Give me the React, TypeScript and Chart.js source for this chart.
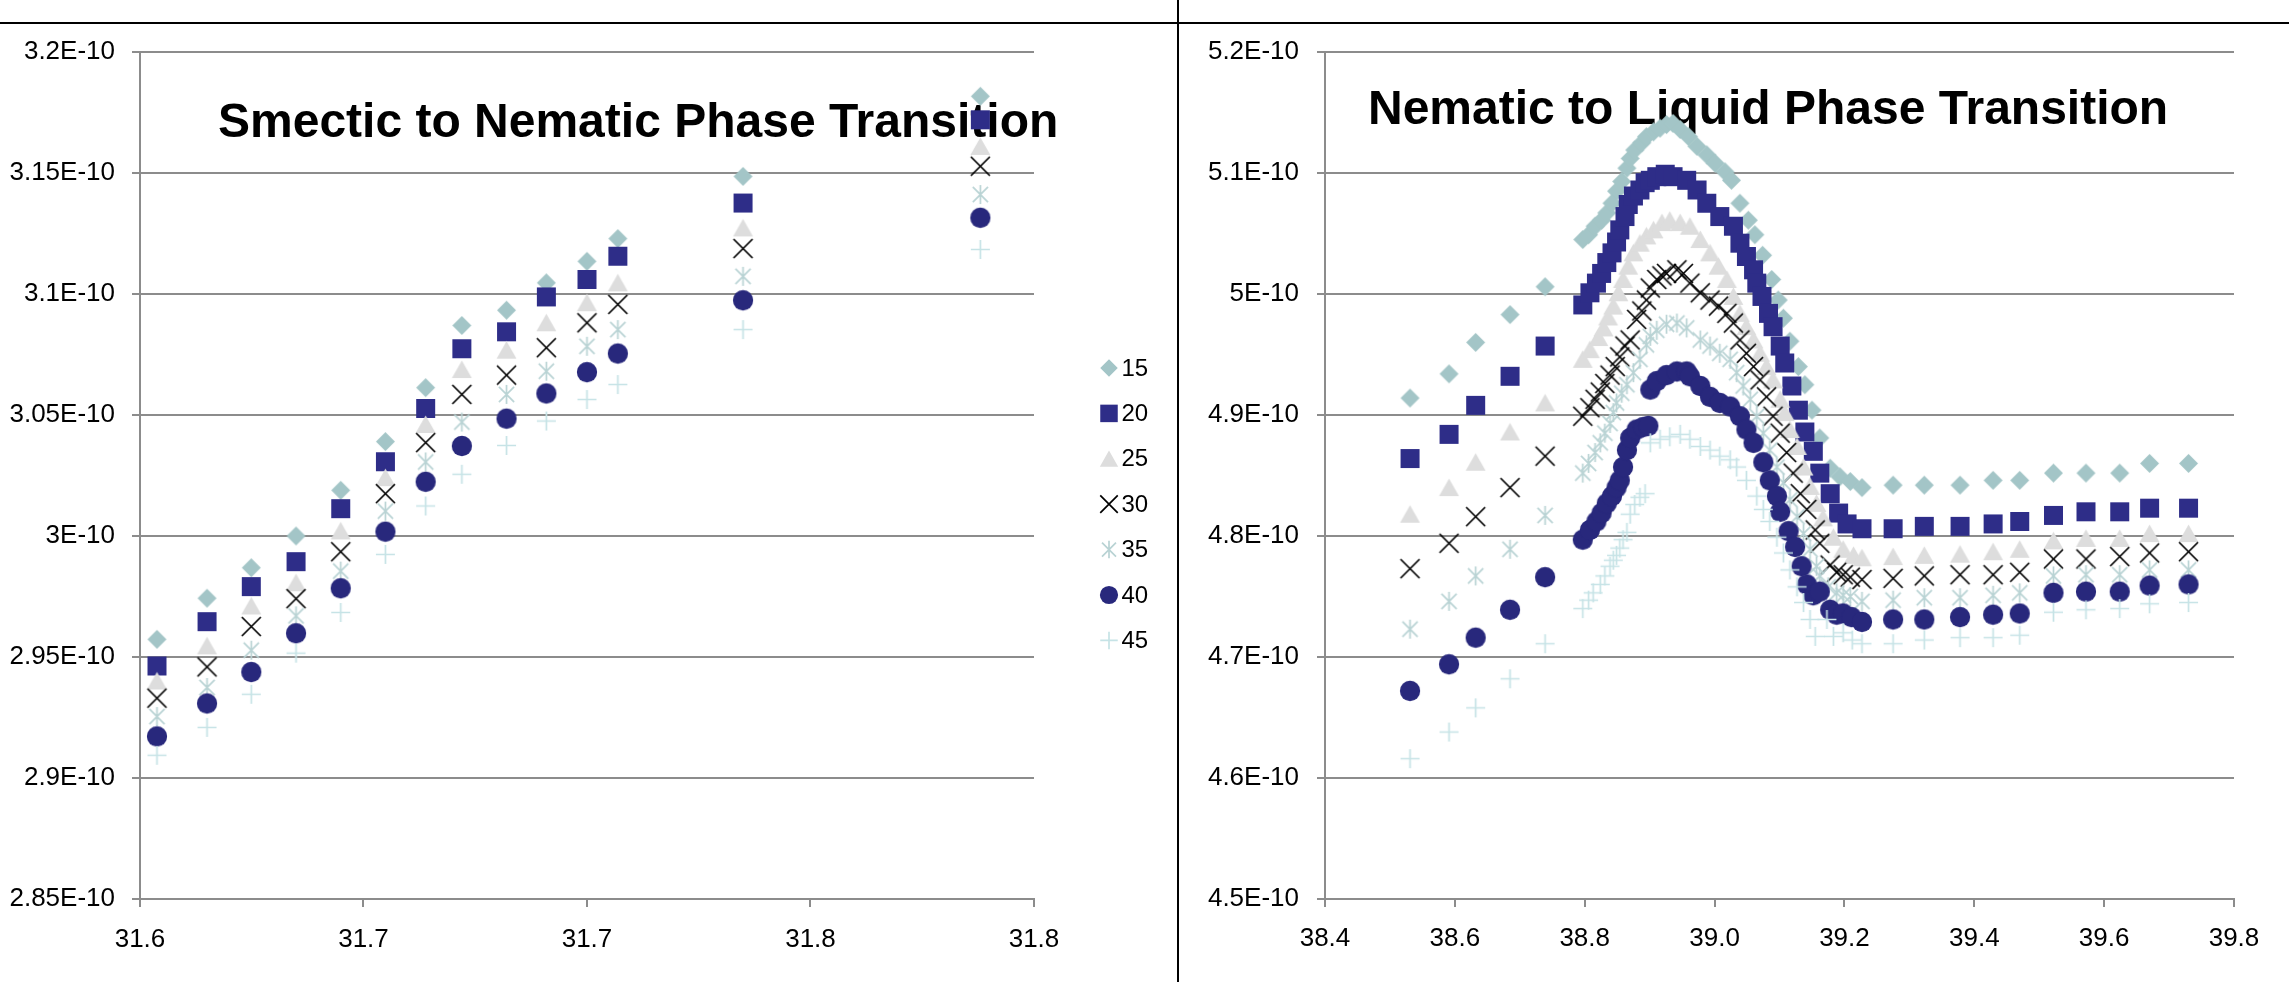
import React, { useEffect, useRef } from 'react';
import { Chart, registerables } from 'chart.js';

Chart.register(...registerables);

// ---------- shared series definitions ----------
const SERIES_NAMES = ['15', '20', '25', '30', '35', '40', '45'];
const MARKER_STYLES = ['diamond', 'square', 'triangle', 'x', 'star', 'circle', 'plus'];
const MARKER_COLORS = ['#A3C5C7', '#2E2D88', '#DDDDDD', '#000000', '#B9D3D4', '#28287C', '#C6E3E6'];
const VALUE_UNIT_EXP = -10; // values below are in units of 1E-10

// ---------- Smectic to Nematic (left) ----------
const SN_TITLE = 'Smectic to Nematic Phase Transition';
const SN_X_TICK_LABELS = ['31.6', '31.7', '31.7', '31.8', '31.8'];
const SN_T = [31.6038, 31.615, 31.6249, 31.6349, 31.6449, 31.6549, 31.6639, 31.672, 31.682, 31.6909, 31.7, 31.7069, 31.7349, 31.788];
const SN_15 = [2.9573, 2.9743, 2.9869, 3.0, 3.0189, 3.039, 3.0613, 3.087, 3.0933, 3.1046, 3.1135, 3.1229, 3.1486, 3.1817];
const SN_20 = [2.9463, 2.9646, 2.9791, 2.9894, 3.0113, 3.0307, 3.0527, 3.0774, 3.0844, 3.0988, 3.106, 3.1156, 3.1376, 3.172];
const SN_25 = [2.9401, 2.9546, 2.9711, 2.9807, 3.0021, 3.0241, 3.0461, 3.0688, 3.0768, 3.0881, 3.0964, 3.1046, 3.1273, 3.161];
const SN_30 = [2.933, 2.9459, 2.9626, 2.9741, 2.9935, 3.0175, 3.0386, 3.0585, 3.0665, 3.0778, 3.0881, 3.0957, 3.1188, 3.1528];
const SN_35 = [2.9254, 2.9374, 2.9528, 2.967, 2.9855, 3.0103, 3.0306, 3.0471, 3.0585, 3.0681, 3.0784, 3.0853, 3.1073, 3.1411];
const SN_40 = [2.9172, 2.9308, 2.9438, 2.9598, 2.9784, 3.0018, 3.0224, 3.0372, 3.0485, 3.0589, 3.0677, 3.0754, 3.0974, 3.1315];
const SN_45 = [2.9094, 2.9209, 2.9346, 2.9516, 2.9684, 2.9924, 3.0124, 3.0255, 3.0374, 3.0475, 3.0564, 3.0626, 3.0853, 3.1184];
const SN_SERIES = [SN_15, SN_20, SN_25, SN_30, SN_35, SN_40, SN_45];

// ---------- Nematic to Liquid (right) : [temperature, value] ----------
const NL_TITLE = 'Nematic to Liquid Phase Transition';
const NL_15: number[][] = [
  [38.531, 4.914], [38.591, 4.934], [38.632, 4.96], [38.685, 4.983], [38.739, 5.006],
  [38.797, 5.045], [38.806, 5.049], [38.816, 5.056], [38.826, 5.061], [38.834, 5.067], [38.842, 5.075], [38.849, 5.085],
  [38.857, 5.093], [38.865, 5.104], [38.87, 5.112], [38.877, 5.119], [38.888, 5.125], [38.895, 5.13], [38.906, 5.134],
  [38.916, 5.137], [38.926, 5.14], [38.936, 5.141], [38.947, 5.136], [38.96, 5.13], [38.973, 5.122], [38.988, 5.115],
  [39.001, 5.108], [39.016, 5.101], [39.026, 5.094], [39.039, 5.075], [39.052, 5.061], [39.062, 5.049], [39.074, 5.032],
  [39.088, 5.012], [39.098, 4.995], [39.106, 4.98], [39.116, 4.961], [39.129, 4.94], [39.139, 4.925], [39.15, 4.904],
  [39.162, 4.881], [39.178, 4.856], [39.193, 4.849], [39.209, 4.845],
  [39.227, 4.84], [39.275, 4.842], [39.323, 4.842], [39.378, 4.842], [39.429, 4.846], [39.47, 4.846], [39.522, 4.852],
  [39.572, 4.852], [39.624, 4.852], [39.67, 4.86], [39.73, 4.86],
];
const NL_20: number[][] = [
  [38.531, 4.864], [38.591, 4.884], [38.632, 4.908], [38.685, 4.932], [38.739, 4.957],
  [38.797, 4.991], [38.808, 5.001], [38.818, 5.009], [38.826, 5.017], [38.834, 5.026], [38.842, 5.034], [38.849, 5.043],
  [38.854, 5.053], [38.862, 5.064], [38.867, 5.074], [38.875, 5.081], [38.885, 5.086], [38.893, 5.092], [38.901, 5.094],
  [38.911, 5.097], [38.924, 5.099], [38.936, 5.097], [38.957, 5.094], [38.973, 5.086], [38.988, 5.075], [39.008, 5.064],
  [39.029, 5.056], [39.039, 5.042], [39.049, 5.031], [39.06, 5.02], [39.065, 5.009], [39.073, 4.998], [39.083, 4.984],
  [39.09, 4.973], [39.101, 4.957], [39.108, 4.943], [39.119, 4.924], [39.129, 4.904], [39.139, 4.886], [39.152, 4.87],
  [39.162, 4.852], [39.178, 4.835], [39.191, 4.819], [39.204, 4.81],
  [39.227, 4.806], [39.275, 4.806], [39.323, 4.808], [39.378, 4.808], [39.429, 4.81], [39.47, 4.812], [39.522, 4.817],
  [39.572, 4.82], [39.624, 4.82], [39.67, 4.823], [39.73, 4.823],
];
const NL_25: number[][] = [
  [38.531, 4.818], [38.591, 4.84], [38.632, 4.861], [38.685, 4.886], [38.739, 4.91],
  [38.797, 4.946], [38.808, 4.954], [38.821, 4.964], [38.829, 4.972], [38.836, 4.981], [38.844, 4.99], [38.852, 5.001],
  [38.859, 5.012], [38.867, 5.023], [38.875, 5.034], [38.885, 5.042], [38.895, 5.048], [38.906, 5.053], [38.919, 5.059],
  [38.931, 5.061], [38.947, 5.059], [38.962, 5.056], [38.978, 5.045], [38.993, 5.034], [39.006, 5.023], [39.019, 5.012],
  [39.029, 4.998], [39.039, 4.984], [39.049, 4.973], [39.06, 4.962], [39.07, 4.951], [39.08, 4.94], [39.09, 4.929],
  [39.101, 4.913], [39.108, 4.902], [39.116, 4.888], [39.127, 4.874], [39.137, 4.857], [39.147, 4.841], [39.157, 4.827],
  [39.167, 4.815], [39.183, 4.799], [39.198, 4.789], [39.214, 4.784],
  [39.227, 4.782], [39.275, 4.783], [39.323, 4.784], [39.378, 4.785], [39.429, 4.787], [39.47, 4.789], [39.522, 4.796],
  [39.572, 4.798], [39.624, 4.798], [39.67, 4.802], [39.73, 4.802],
];
const NL_30: number[][] = [
  [38.531, 4.773], [38.591, 4.794], [38.632, 4.816], [38.685, 4.84], [38.739, 4.866],
  [38.797, 4.899], [38.808, 4.906], [38.816, 4.913], [38.824, 4.919], [38.831, 4.926], [38.839, 4.933], [38.847, 4.94],
  [38.854, 4.948], [38.862, 4.957], [38.87, 4.962], [38.88, 4.979], [38.888, 4.986], [38.895, 4.995], [38.901, 5.005],
  [38.911, 5.012], [38.919, 5.015], [38.926, 5.017], [38.942, 5.02], [38.952, 5.017], [38.962, 5.009], [38.978, 5.001],
  [38.993, 4.995], [39.006, 4.99], [39.019, 4.984], [39.029, 4.976], [39.039, 4.962], [39.049, 4.951], [39.06, 4.94],
  [39.07, 4.929], [39.08, 4.915], [39.09, 4.899], [39.101, 4.885], [39.111, 4.869], [39.121, 4.852], [39.132, 4.835],
  [39.142, 4.822], [39.155, 4.805], [39.162, 4.794], [39.178, 4.776], [39.188, 4.77], [39.198, 4.768], [39.209, 4.766],
  [39.227, 4.764], [39.275, 4.765], [39.323, 4.767], [39.378, 4.768], [39.429, 4.768], [39.47, 4.77], [39.522, 4.781],
  [39.572, 4.781], [39.624, 4.783], [39.67, 4.786], [39.73, 4.787],
];
const NL_35: number[][] = [
  [38.531, 4.723], [38.591, 4.746], [38.632, 4.767], [38.685, 4.789], [38.739, 4.817],
  [38.797, 4.852], [38.806, 4.86], [38.816, 4.869], [38.824, 4.877], [38.831, 4.885], [38.839, 4.893], [38.844, 4.902],
  [38.849, 4.91], [38.857, 4.918], [38.865, 4.925], [38.875, 4.935], [38.885, 4.946], [38.895, 4.958], [38.901, 4.965],
  [38.911, 4.97], [38.926, 4.975], [38.942, 4.976], [38.957, 4.972], [38.978, 4.962], [38.993, 4.957], [39.008, 4.951],
  [39.024, 4.946], [39.034, 4.935], [39.044, 4.924], [39.055, 4.913], [39.065, 4.899], [39.075, 4.885], [39.085, 4.871],
  [39.096, 4.857], [39.106, 4.844], [39.116, 4.83], [39.127, 4.816], [39.137, 4.802], [39.147, 4.789], [39.157, 4.775],
  [39.162, 4.767], [39.175, 4.758], [39.188, 4.753], [39.198, 4.751], [39.209, 4.75],
  [39.227, 4.746], [39.275, 4.747], [39.323, 4.749], [39.378, 4.749], [39.429, 4.751], [39.47, 4.753], [39.522, 4.767],
  [39.572, 4.768], [39.624, 4.768], [39.67, 4.772], [39.73, 4.772],
];
const NL_40: number[][] = [
  [38.531, 4.672], [38.591, 4.694], [38.632, 4.716], [38.685, 4.739], [38.739, 4.766],
  [38.797, 4.797], [38.808, 4.805], [38.818, 4.812], [38.826, 4.819], [38.834, 4.827], [38.842, 4.833], [38.849, 4.84],
  [38.854, 4.846], [38.859, 4.857], [38.865, 4.871], [38.87, 4.881], [38.88, 4.888], [38.89, 4.89], [38.898, 4.891],
  [38.901, 4.921], [38.911, 4.928], [38.926, 4.933], [38.942, 4.936], [38.957, 4.936], [38.962, 4.932], [38.978, 4.924],
  [38.993, 4.915], [39.008, 4.91], [39.024, 4.907], [39.039, 4.899], [39.049, 4.888], [39.06, 4.877], [39.075, 4.861],
  [39.085, 4.846], [39.096, 4.833], [39.101, 4.82], [39.114, 4.804], [39.124, 4.791], [39.134, 4.775], [39.142, 4.76],
  [39.152, 4.751], [39.162, 4.754], [39.178, 4.739], [39.188, 4.735], [39.198, 4.736], [39.211, 4.733],
  [39.227, 4.729], [39.275, 4.731], [39.323, 4.731], [39.378, 4.733], [39.429, 4.735], [39.47, 4.736], [39.522, 4.753],
  [39.572, 4.754], [39.624, 4.754], [39.67, 4.759], [39.73, 4.76],
];
const NL_45: number[][] = [
  [38.531, 4.616], [38.591, 4.638], [38.632, 4.658], [38.685, 4.682], [38.739, 4.711],
  [38.797, 4.74], [38.806, 4.747], [38.813, 4.753], [38.824, 4.76], [38.831, 4.767], [38.839, 4.775], [38.844, 4.78],
  [38.849, 4.784], [38.854, 4.79], [38.859, 4.797], [38.865, 4.803], [38.87, 4.818], [38.877, 4.826], [38.885, 4.832],
  [38.893, 4.835], [38.901, 4.877], [38.916, 4.88], [38.931, 4.882], [38.947, 4.884], [38.962, 4.88], [38.978, 4.874],
  [38.993, 4.871], [39.008, 4.866], [39.024, 4.863], [39.034, 4.857], [39.049, 4.846], [39.065, 4.833], [39.075, 4.822],
  [39.085, 4.812], [39.096, 4.799], [39.106, 4.786], [39.116, 4.772], [39.127, 4.758], [39.137, 4.745], [39.147, 4.731],
  [39.155, 4.717], [39.173, 4.731], [39.183, 4.717], [39.198, 4.72], [39.212, 4.714],
  [39.227, 4.711], [39.275, 4.711], [39.323, 4.714], [39.378, 4.716], [39.429, 4.716], [39.47, 4.718], [39.522, 4.737],
  [39.572, 4.739], [39.624, 4.74], [39.67, 4.744], [39.73, 4.745],
];
const NL_SERIES = [NL_15, NL_20, NL_25, NL_30, NL_35, NL_40, NL_45];

// ---------- drawing helpers ----------
const FONT = 'Arial, "Liberation Sans", sans-serif';
const GRID = '#8C8C8C';

function drawMarker(ctx: CanvasRenderingContext2D, style: string, cx: number, cy: number, s: number, color: string) {
  const h = s / 2;
  ctx.save();
  ctx.fillStyle = color;
  ctx.strokeStyle = color;
  ctx.lineWidth = 1.7;
  ctx.beginPath();
  switch (style) {
    case 'diamond':
      ctx.moveTo(cx, cy - h); ctx.lineTo(cx + h, cy); ctx.lineTo(cx, cy + h); ctx.lineTo(cx - h, cy); ctx.closePath(); ctx.fill();
      break;
    case 'square':
      ctx.rect(cx - h, cy - h, s, s); ctx.fill();
      break;
    case 'triangle':
      ctx.moveTo(cx, cy - h * 0.95); ctx.lineTo(cx + h * 1.05, cy + h * 0.9); ctx.lineTo(cx - h * 1.05, cy + h * 0.9); ctx.closePath(); ctx.fill();
      break;
    case 'x':
      ctx.moveTo(cx - h, cy - h); ctx.lineTo(cx + h, cy + h); ctx.moveTo(cx + h, cy - h); ctx.lineTo(cx - h, cy + h); ctx.stroke();
      break;
    case 'star':
      ctx.moveTo(cx - h * 0.8, cy - h * 0.8); ctx.lineTo(cx + h * 0.8, cy + h * 0.8);
      ctx.moveTo(cx + h * 0.8, cy - h * 0.8); ctx.lineTo(cx - h * 0.8, cy + h * 0.8);
      ctx.moveTo(cx, cy - h); ctx.lineTo(cx, cy + h); ctx.stroke();
      break;
    case 'circle':
      ctx.arc(cx, cy, h * 1.04, 0, Math.PI * 2); ctx.fill();
      break;
    case 'plus':
      ctx.moveTo(cx - h, cy); ctx.lineTo(cx + h, cy); ctx.moveTo(cx, cy - h); ctx.lineTo(cx, cy + h); ctx.stroke();
      break;
  }
  ctx.restore();
}

function markerImage(style: string, color: string, s: number) {
  const c = document.createElement('canvas');
  const size = Math.ceil(s) + 6;
  c.width = size; c.height = size;
  const ctx = c.getContext('2d')!;
  drawMarker(ctx, style, size / 2, size / 2, s, color);
  return c;
}

const sciLabel = (v: number) => `${parseFloat(Number(v).toFixed(2))}E${VALUE_UNIT_EXP}`;

function titlePlugin(text: string, x: number, y: number) {
  return {
    id: 'phaseTitle',
    beforeDatasetsDraw(chart: any) {
      const ctx = chart.ctx;
      ctx.save();
      ctx.font = `bold 48px ${FONT}`;
      ctx.fillStyle = '#000';
      ctx.textAlign = 'left';
      ctx.textBaseline = 'alphabetic';
      ctx.fillText(text, x, y);
      ctx.restore();
    },
  };
}

function legendPlugin(x: number, top: number, gap: number) {
  return {
    id: 'sideLegend',
    afterDraw(chart: any) {
      const ctx = chart.ctx;
      ctx.save();
      ctx.font = `24px ${FONT}`;
      ctx.fillStyle = '#000';
      ctx.textAlign = 'left';
      ctx.textBaseline = 'middle';
      SERIES_NAMES.forEach((name, i) => {
        const y = top + i * gap;
        drawMarker(ctx, MARKER_STYLES[i], x, y, 17.5, MARKER_COLORS[i]);
        ctx.fillStyle = '#000';
        ctx.fillText(name, x + 12.5, y + 1);
      });
      ctx.restore();
    },
  };
}

function makeConfig(opts: any): any {
  const datasets = opts.series.map((pts: number[][], i: number) => ({
    label: SERIES_NAMES[i],
    data: pts.map((p) => ({ x: p[0], y: p[1] })),
    pointStyle: markerImage(MARKER_STYLES[i], MARKER_COLORS[i], MARKER_STYLES[i] === 'circle' ? 19.5 : 19),
    pointRadius: 10,
    showLine: false,
    order: 6 - i,
  }));
  return {
    type: 'scatter',
    data: { datasets },
    plugins: opts.plugins,
    options: {
      animation: false,
      responsive: false,
      events: [],
      layout: { padding: opts.padding },
      plugins: { legend: { display: false }, tooltip: { enabled: false }, title: { display: false } },
      scales: {
        x: {
          type: 'linear',
          min: opts.xMin, max: opts.xMax,
          afterFit: (s: any) => { s.height = opts.xAxisHeight; },
          ticks: {
            stepSize: opts.xStep,
            autoSkip: false,
            maxRotation: 0,
            color: '#000',
            padding: opts.xPad,
            font: { family: FONT, size: 26 },
            callback: opts.xLabel,
          },
          grid: { drawOnChartArea: false, drawTicks: true, tickLength: 8, color: GRID, lineWidth: 2 },
          border: { display: true, color: GRID, width: 2 },
        },
        y: {
          type: 'linear',
          min: opts.yMin, max: opts.yMax,
          afterFit: (s: any) => { s.width = opts.yAxisWidth; },
          ticks: {
            stepSize: opts.yStep,
            autoSkip: false,
            color: '#000',
            padding: opts.yPad,
            font: { family: FONT, size: 26 },
            callback: (v: number) => sciLabel(v),
          },
          grid: { drawTicks: true, tickLength: 8, color: GRID, lineWidth: 2 },
          border: { display: true, color: GRID, width: 2 },
        },
      },
    },
  };
}

function Panel({ left, width, height, build }: { left: number; width: number; height: number; build: () => any }) {
  const ref = useRef<HTMLCanvasElement>(null);
  useEffect(() => {
    const chart = new Chart(ref.current as HTMLCanvasElement, build());
    return () => chart.destroy();
  }, []);
  return (
    <canvas
      ref={ref}
      width={width}
      height={height}
      style={{ position: 'absolute', left, top: 0, width, height }}
    />
  );
}

export default function App() {
  const H = 982;
  const buildLeft = () =>
    makeConfig({
      series: SN_SERIES.map((ys) => ys.map((y, j) => [SN_T[j], y])),
      xMin: 31.6, xMax: 31.8, xStep: 0.05,
      yMin: 2.85, yMax: 3.2, yStep: 0.05,
      xLabel: (_v: number, i: number) => SN_X_TICK_LABELS[i],
      yAxisWidth: 140, xAxisHeight: 83,
      xPad: 17, yPad: 17,
      padding: { left: 0, top: 52, right: 142, bottom: 0 },
      plugins: [titlePlugin(SN_TITLE, 218, 137), legendPlugin(1109, 368, 45.4)],
    });
  const buildRight = () =>
    makeConfig({
      series: NL_SERIES,
      xMin: 38.4, xMax: 39.8, xStep: 0.2,
      yMin: 4.5, yMax: 5.2, yStep: 0.1,
      xLabel: (v: number) => Number(v).toFixed(1),
      yAxisWidth: 145, xAxisHeight: 83,
      xPad: 16, yPad: 18,
      padding: { left: 0, top: 52, right: 55, bottom: 0 },
      plugins: [titlePlugin(NL_TITLE, 188, 124)],
    });
  return (
    <div style={{ position: 'fixed', left: 0, top: 0, width: 2289, height: H, background: '#fff', overflow: 'hidden' }}>
      <Panel left={0} width={1176} height={H} build={buildLeft} />
      <Panel left={1180} width={1109} height={H} build={buildRight} />
      <div style={{ position: 'absolute', left: 0, top: 22, width: 2289, height: 2, background: '#000' }} />
      <div style={{ position: 'absolute', left: 1177, top: 0, width: 2, height: H, background: '#000' }} />
    </div>
  );
}
